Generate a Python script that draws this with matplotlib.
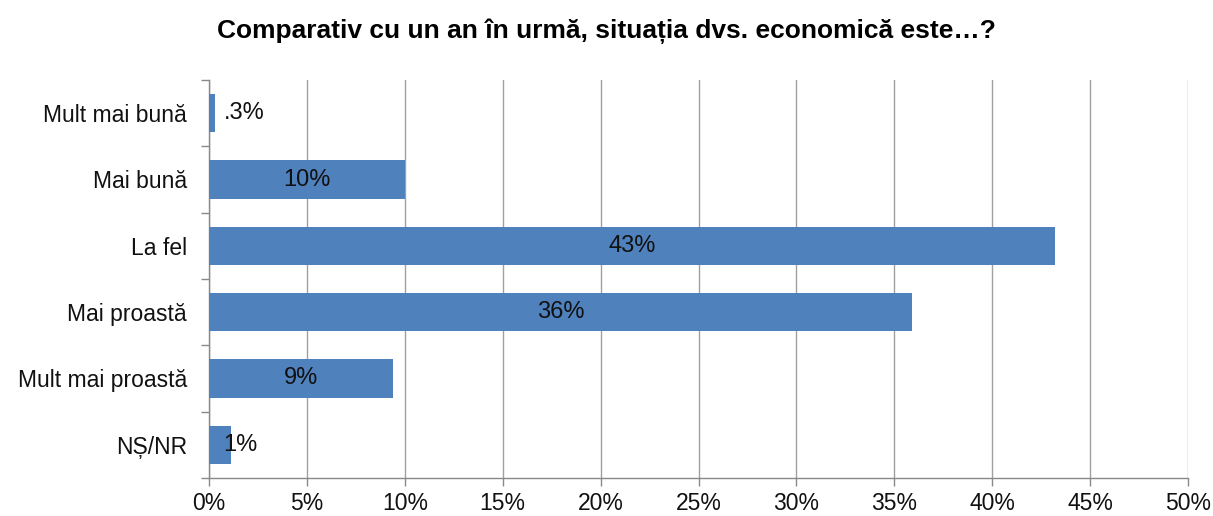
import matplotlib.pyplot as plt
from matplotlib import font_manager
import matplotlib.ticker as mticker

categories = ['Mult mai bună', 'Mai bună', 'La fel', 'Mai proastă', 'Mult mai proastă', 'NȘ/NR']
values = [0.3, 10.0, 43.2, 35.9, 9.4, 1.1]
labels = ['.3%', '10%', '43%', '36%', '9%', '1%']
title = 'Comparativ cu un an în urmă, situația dvs. economică este…?'

names = {f.name for f in font_manager.fontManager.ttflist}
title_font = 'Liberation Sans Narrow' if 'Liberation Sans Narrow' in names else 'Liberation Sans'
plt.rcParams['font.family'] = ['Liberation Sans', 'DejaVu Sans']

fig = plt.figure(figsize=(12.13, 5.16), dpi=100)
ax = fig.add_axes([209 / 1213, (516 - 478) / 516, (1188 - 209) / 1213, (478 - 80) / 516])

pos = list(range(len(categories)))
ax.barh(pos, values, height=0.58, color='#4F81BD', zorder=3)

for p, v, lab in zip(pos, values, labels):
    if v >= 5:
        ax.text(v / 2, p, lab, ha='center', va='center', fontsize=17, color='#111111', zorder=4)
    else:
        ax.text(0.75, p, lab, ha='left', va='center', fontsize=17, color='#111111', zorder=4)

ax.set_ylim(len(categories) - 0.5, -0.5)
ax.set_xlim(0, 50)
ax.set_xticks(range(0, 51, 5))
ax.xaxis.set_major_formatter(mticker.FuncFormatter(lambda x, _: '%d%%' % x))
ax.set_yticks(pos)
ax.set_yticklabels(categories)
ax.yaxis.set_minor_locator(mticker.FixedLocator([p - 0.5 for p in range(len(categories) + 1)]))
ax.tick_params(axis='y', which='major', length=0, pad=16, labelsize=16.5, labelcolor='#111111')
ax.tick_params(axis='y', which='minor', length=6, color='#898989', width=1)
ax.tick_params(axis='x', length=6, color='#898989', width=1, labelsize=16.5, pad=4,
               labelcolor='#111111')

ax.grid(axis='x', color='#A0A0A0', linewidth=1, zorder=0)
for s in ['top', 'right']:
    ax.spines[s].set_visible(False)
for s in ['left', 'bottom']:
    ax.spines[s].set_color('#898989')
    ax.spines[s].set_linewidth(1)

fig.text(0.5, 1 - 31 / 516, title, ha='center', va='center', fontsize=19,
         fontweight='bold', family=[title_font, 'DejaVu Sans'])

fig.savefig('out.png', dpi=100)
